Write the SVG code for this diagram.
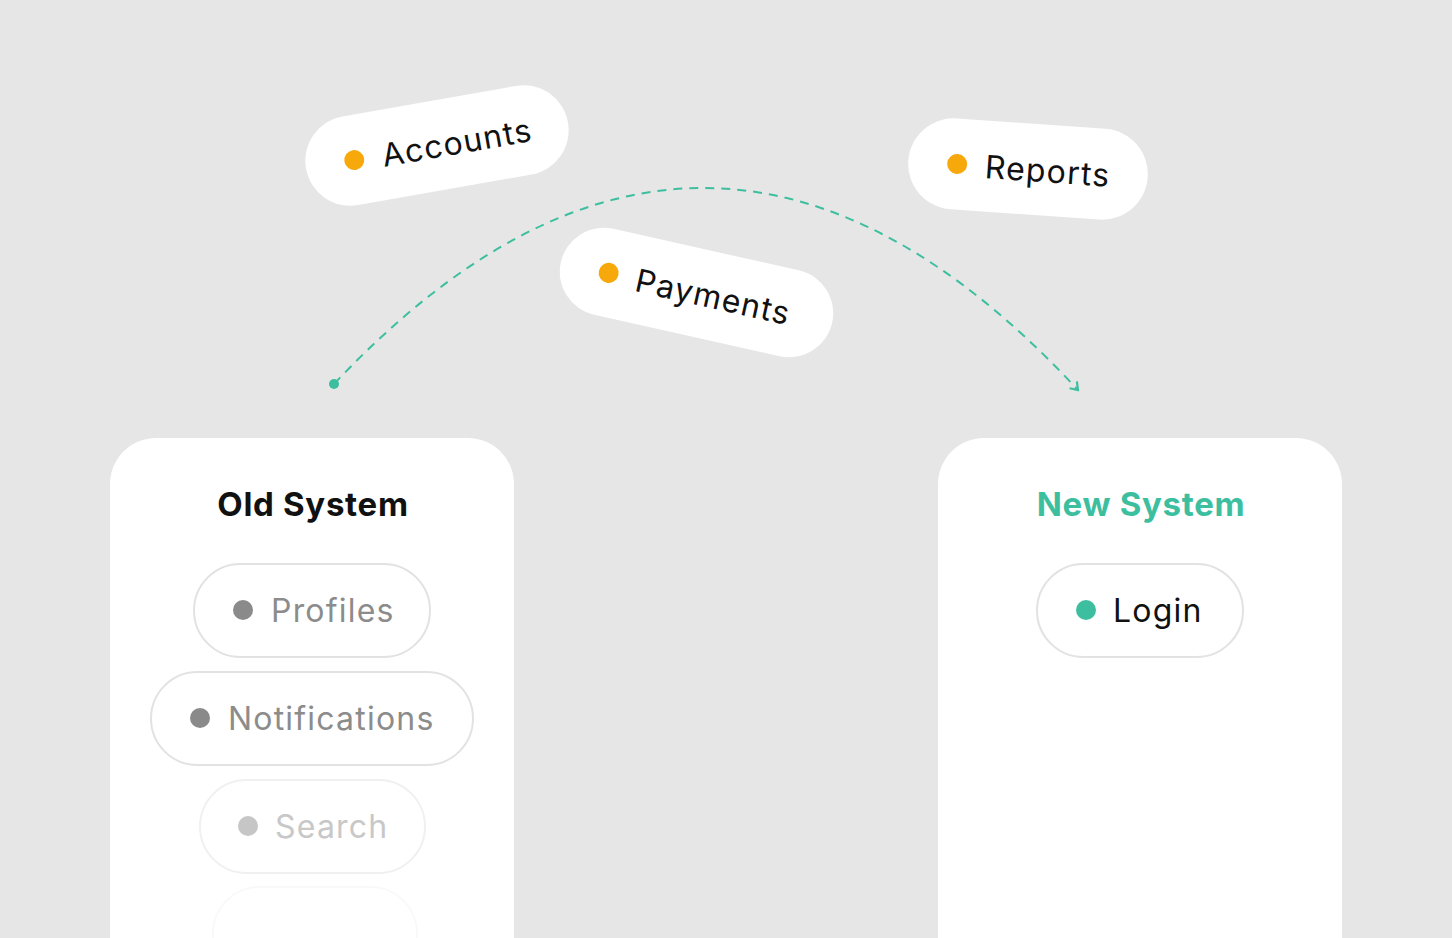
<svg xmlns="http://www.w3.org/2000/svg" width="1452" height="938" viewBox="0 0 1452 938">
<defs>
<style>
.bg{fill:#e6e6e6}
.panel{fill:#ffffff}
.title{font-family:Inter,"Open Sans",sans-serif;font-weight:700;font-size:33px;letter-spacing:0.7px;text-anchor:middle}
.lbl{font-family:Inter,"Open Sans",sans-serif;font-size:32px;font-weight:400;letter-spacing:1.2px}
.pill{fill:#ffffff;stroke:#e2e2e2;stroke-width:2}
.fpill{fill:#ffffff}
.flow{fill:none;stroke:#3dbf9f;stroke-width:2;stroke-dasharray:9 7}
.orange{fill:#f7a90c}
</style>
<marker id="arr" viewBox="0 0 12 12" refX="10" refY="6" markerWidth="12" markerHeight="12" markerUnits="userSpaceOnUse" orient="auto">
<polyline points="3,1 10,6 3,11" fill="none" stroke="#3dbf9f" stroke-width="2.2"/>
</marker>
</defs>
<rect class="bg" x="0" y="0" width="1452" height="938"/>

<g id="old-system">
<rect class="panel" x="110" y="438" width="404" height="560" rx="46"/>
<text class="title" x="313" y="516" fill="#111111">Old System</text>
</g>
<g id="profiles">
<rect class="pill" x="194" y="564" width="236" height="93" rx="46.5"/>
<circle cx="243" cy="610" r="10" fill="#8a8a8a"/>
<text class="lbl" x="271" y="622" fill="#8c8c8c">Profiles</text>
</g>
<g id="notifications">
<rect class="pill" x="151" y="672" width="322" height="93" rx="46.5"/>
<circle cx="200" cy="718" r="10" fill="#8a8a8a"/>
<text class="lbl" x="228" y="730" fill="#8c8c8c">Notifications</text>
</g>
<g id="search">
<rect class="pill" x="200" y="780" width="225" height="93" rx="46.5" style="stroke:#f0f0f0"/>
<circle cx="248" cy="826" r="10" fill="#c6c6c6"/>
<text class="lbl" x="275" y="838" fill="#c8c8c8">Search</text>
</g>
<g id="faded-item">
<rect class="pill" x="213" y="887" width="204" height="93" rx="46.5" style="stroke:#f9f9f9"/>
</g>

<g id="new-system">
<rect class="panel" x="938" y="438" width="404" height="560" rx="46"/>
<text class="title" x="1141" y="516" fill="#3dbf9f">New System</text>
</g>
<g id="login">
<rect class="pill" x="1037" y="564" width="206" height="93" rx="46.5"/>
<circle cx="1086" cy="610" r="10" fill="#3dbf9f"/>
<text class="lbl" x="1113" y="622" fill="#111111">Login</text>
</g>

<g id="connectors">
<circle cx="334" cy="384" r="5" fill="#3dbf9f"/>
<path class="flow" d="M334,384 Q706,-11 1078,390" marker-end="url(#arr)"/>
</g>

<g id="accounts" transform="translate(437,145.5) rotate(-10)">
<rect class="fpill" x="-133" y="-45" width="266" height="90" rx="45"/>
<circle class="orange" cx="-84" cy="0" r="10"/>
<text class="lbl" x="-56" y="12" fill="#111111">Accounts</text>
</g>
<g id="reports" transform="translate(1028,169) rotate(4)">
<rect class="fpill" x="-120" y="-45.5" width="240" height="91" rx="45.5"/>
<circle class="orange" cx="-71" cy="0" r="10"/>
<text class="lbl" x="-43" y="12" fill="#111111">Reports</text>
</g>
<g id="payments" transform="translate(696.5,292.5) rotate(12.6)">
<rect class="fpill" x="-139" y="-44" width="278" height="88" rx="44"/>
<circle class="orange" cx="-90" cy="0" r="10"/>
<text class="lbl" x="-62" y="12" fill="#111111">Payments</text>
</g>
</svg>
